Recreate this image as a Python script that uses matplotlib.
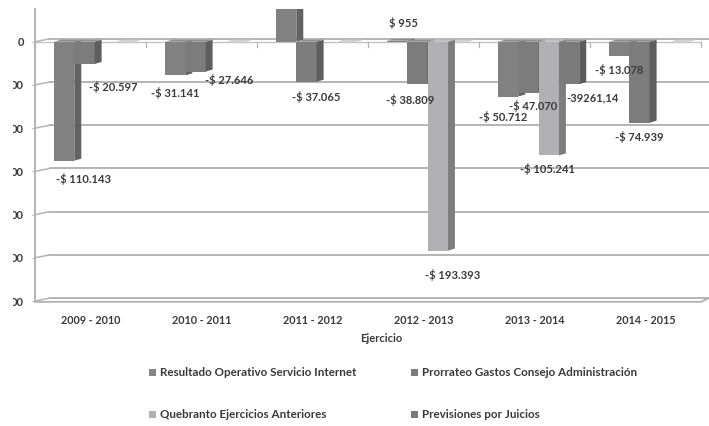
#!/usr/bin/env python3
import matplotlib
matplotlib.use('Agg')
import matplotlib.pyplot as plt
from matplotlib.patches import Polygon, Rectangle
from matplotlib.transforms import Bbox

ejercicios = ['2009 - 2010', '2010 - 2011', '2011 - 2012', '2012 - 2013', '2013 - 2014', '2014 - 2015']
series_names = ['Resultado Operativo Servicio Internet', 'Prorrateo Gastos Consejo Administración',
                'Quebranto Ejercicios Anteriores', 'Previsiones por Juicios']

resultado = [-110143, -31141, 40000, 955, -50712, -13078]
prorrateo = [-20597, -27646, -37065, -38809, -47070, -74939]
quebranto = [0, 0, 0, -193393, -105241, 0]
previsiones = [0, 0, 0, 0, -39261, 0]
all_series = [resultado, prorrateo, quebranto, previsiones]

y_ticks = [0, -40000, -80000, -120000, -160000, -200000, -240000]
# the reference image is cropped on the left, only the end of each label shows
y_tick_labels = ['0', '00', '00', '00', '00', '00', '00']

# text of each value label, None where the crop removed it
labels_res = ['-$ 110.143', '-$ 31.141', None, '$ 955', '-$ 50.712', '-$ 13.078']
labels_pro = ['-$ 20.597', '-$ 27.646', '-$ 37.065', '-$ 38.809', '-$ 47.070', '-$ 74.939']
labels_que = [None, None, None, '-$ 193.393', '-$ 105.241', None]
labels_pre = [None, None, None, None, '-39261,14', None]
all_labels = [labels_res, labels_pro, labels_que, labels_pre]

# --- styling / layout ---
plt.rcParams['font.family'] = ['Lato', 'DejaVu Sans']
TEXT = '#3a3a3a'
GRID = '#b4b4b4'
FRONT = ['#818181', '#7c7c7c', '#b1b1b3', '#7a7a7a']
SIDE = ['#626262', '#5e5e5e', '#7e7e80', '#5c5c5c']
TOP = ['#8e8e8e', '#8e8e8e', '#bcbcbc', '#8e8e8e']
LEGEND_COL = ['#858585', '#7c7c7c', '#b1b1b3', '#7a7a7a']

# pixel offsets of the value labels from the end of their bar
label_offsets = [
    [(19, -18), (0, -18), None, (6, 18), (-5, -20), (0, -14)],
    [(28.5, -23.5), (33.5, -8.5), (9.5, -15), (-7.5, -16.5), (4.5, -13), (0, -14)],
    [None, None, None, (15, -24), (-1, -14), None],
    [None, None, None, None, (23, -14), None],
]

W, H = 709, 426
fig = plt.figure(figsize=(W / 100, H / 100), dpi=100)
ax = fig.add_axes([35 / W, (H - 301) / H, 666 / W, 292 / H])
ax.set_xlim(0, 6)
ax.set_ylim(-240000, 30300)

depth_x = 7 / 111
depth_y = 1900
back_x = 15 / 111
back_y = 3 / 0.00108
bar_w = 0.183
first = 0.171
right_edge = 674 / 111

# back wall gridlines and the left wall diagonals
for t in y_ticks:
    ax.plot([back_x, right_edge], [t + back_y] * 2, color=GRID, lw=1.4, clip_on=False, zorder=1)
    ax.plot([0, back_x], [t, t + back_y], color=GRID, lw=1.1, clip_on=False, zorder=1)

# floor front edge and zero plane front edge
ax.plot([0, 6, right_edge], [-240000 - 800, -240000 - 800, -240000 + back_y], color=GRID, lw=1.4, clip_on=False, zorder=1)
ax.plot([0, 6], [0, 0], color='#c4c4c4', lw=1.0, zorder=1)
for i in range(7):
    ax.plot([i, i], [0, -4500], color=GRID, lw=0.9, clip_on=False, zorder=1)

# bars drawn series by series so the later ones hide the earlier sides
for s, values in enumerate(all_series):
    for i, v in enumerate(values):
        x0 = i + first + s * bar_w
        x1 = x0 + bar_w
        if v == 0:
            # empty slots only leave a faint sliver, and only in the last slot
            if s == 3:
                ax.add_patch(Polygon([(x0, 0), (x1, 0), (x1 + depth_x, depth_y), (x0 + depth_x, depth_y)],
                                     closed=True, fc='#cfcfcf', lw=0, zorder=2))
            continue
        ax.bar(x0, v, width=bar_w, align='edge', color=FRONT[s], lw=0, zorder=3 + s)
        ax.add_patch(Polygon([(x1, 0), (x1 + depth_x, depth_y), (x1 + depth_x, v + depth_y), (x1, v)],
                             closed=True, fc=SIDE[s], lw=0, zorder=3 + s))
        top = max(v, 0)
        ax.add_patch(Polygon([(x0, top), (x1, top), (x1 + depth_x, top + depth_y), (x0 + depth_x, top + depth_y)],
                             closed=True, fc=TOP[s], lw=0, zorder=3 + s))

# value labels
for s, values in enumerate(all_series):
    for i, v in enumerate(values):
        if all_labels[s][i] is None:
            continue
        xc = i + first + (s + 0.5) * bar_w
        ax.annotate(all_labels[s][i], (xc, v), xytext=label_offsets[s][i], textcoords='offset pixels',
                    ha='center', va='center', fontsize=8.0, fontweight='bold', color=TEXT, zorder=20,
                    annotation_clip=False)

for sp in ['top', 'right', 'bottom']:
    ax.spines[sp].set_visible(False)
ax.spines['left'].set_color(GRID)
ax.spines['left'].set_linewidth(1.4)

ax.set_xticks([i + 0.5 for i in range(6)])
ax.set_xticklabels(ejercicios, fontsize=7.8, fontweight='bold', color=TEXT)
ax.tick_params(axis='x', length=0, pad=10)
ax.set_xlabel('Ejercicio', fontsize=8, fontweight='bold', color=TEXT, labelpad=8)
ax.xaxis.set_label_coords((381 - 35) / 666, -(338 - 301) / 292, transform=ax.transAxes)
ax.xaxis.label.set_va('center')

ax.set_yticks(y_ticks)
ax.set_yticklabels(y_tick_labels, fontsize=8, fontweight='bold', color=TEXT)
ax.tick_params(axis='y', length=2, color=GRID, pad=6)
clip = Bbox([[13, 0], [W, H]])
for lab in ax.get_yticklabels():
    lab.set_clip_box(clip)
    lab.set_clip_on(True)

# legend placed by hand, two rows and two columns
legend_pos = [(152, 372), (414, 372), (152, 414), (414, 414)]
for s, (px, py) in enumerate(legend_pos):
    fig.add_artist(Rectangle(((px - 3.5) / W, (H - py - 3.5) / H), 7 / W, 7 / H,
                             transform=fig.transFigure, fc=LEGEND_COL[s], lw=0))
    fig.text((px + 8) / W, (H - py) / H, series_names[s], fontsize=8.4, fontweight='bold',
             color=TEXT, ha='left', va='center')

fig.savefig('out.png', dpi=100)
plt.close(fig)
